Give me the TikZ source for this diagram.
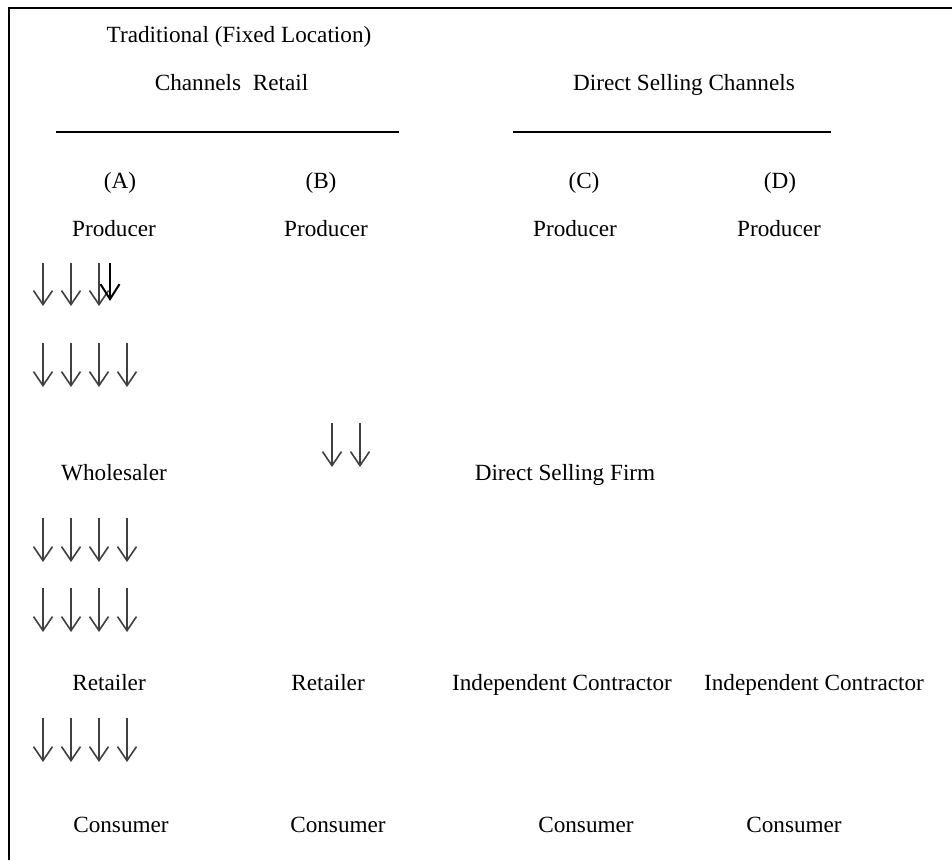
\documentclass[tikz,border=0pt]{standalone}
\usepackage{fontspec}
\setmainfont{Liberation Serif}
\usetikzlibrary{arrows.meta}
\begin{document}
\begin{tikzpicture}[x=1pt,y=-1pt,
  lbl/.style={inner sep=0pt, anchor=base, font=\fontsize{23.2}{28}\selectfont},
  flow/.style={black!75, line width=1.6pt, -{Straight Barb[length=14pt,width=19pt]}},
  boldflow/.style={black, line width=2pt, -{Straight Barb[length=15pt,width=19pt]}},
  frameline/.style={line width=2.5pt},
  rule/.style={line width=1.4pt}]
\useasboundingbox (0,0) rectangle (952,860);
% frame
\coordinate (f1) at (9,860);
\coordinate (f2) at (9,8);
\coordinate (f3) at (952,8);
\draw[frameline] (f1) -- (f2) -- (f3);
% headings
\node[lbl] (trad) at (239,42) {Traditional (Fixed Location)};
\node[lbl] (chr) at (231.5,90) {Channels\ \ Retail};
\node[lbl] (dsc) at (684,90) {Direct Selling Channels};
\coordinate (r1a) at (56,132); \coordinate (r1b) at (399,132);
\coordinate (r2a) at (513,132); \coordinate (r2b) at (831,132);
\draw[rule] (r1a) -- (r1b);
\draw[rule] (r2a) -- (r2b);
% column letters
\node[lbl] (la) at (120,188) {(A)};
\node[lbl] (lb) at (321,188) {(B)};
\node[lbl] (lc) at (584,188) {(C)};
\node[lbl] (ld) at (780,188) {(D)};
% producers
\node[lbl] (pa) at (114,236) {Producer};
\node[lbl] (pb) at (326,236) {Producer};
\node[lbl] (pc) at (575,236) {Producer};
\node[lbl] (pd) at (779,236) {Producer};
% middle level
\node[lbl] (wa) at (114,480) {Wholesaler};
\node[lbl] (dsf) at (565,480) {Direct Selling Firm};
% retail level
\node[lbl] (ra) at (109,690) {Retailer};
\node[lbl] (rb) at (328,690) {Retailer};
\node[lbl] (ic1) at (562,690) {Independent Contractor};
\node[lbl] (ic2) at (814,690) {Independent Contractor};
% consumers
\node[lbl] (ca) at (121,832) {Consumer};
\node[lbl] (cb) at (338,832) {Consumer};
\node[lbl] (cc) at (586,832) {Consumer};
\node[lbl] (cd) at (794,832) {Consumer};
% arrow rows
\foreach \x [count=\i] in {43,71,99} {
  \coordinate (a1s\i) at (\x,263); \coordinate (a1e\i) at (\x,306);
  \draw[flow] (a1s\i) -- (a1e\i);
}
\coordinate (bs) at (110,263); \coordinate (be) at (110,301);
\draw[boldflow] (bs) -- (be);
\foreach \y/\r in {343/2,518/3,588/4,718/5} {
  \foreach \x [count=\i] in {43,71,99,127} {
    \coordinate (a\r s\i) at (\x,\y); \coordinate (a\r e\i) at (\x,\y+44);
    \draw[flow] (a\r s\i) -- (a\r e\i);
  }
}
\foreach \x [count=\i] in {332,360} {
  \coordinate (abs\i) at (\x,423); \coordinate (abe\i) at (\x,467);
  \draw[flow] (abs\i) -- (abe\i);
}
\end{tikzpicture}
\end{document}
